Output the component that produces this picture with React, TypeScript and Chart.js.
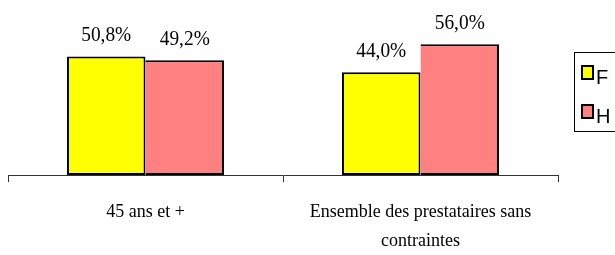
import React, { useEffect, useRef } from 'react';
import { Chart, registerables } from 'chart.js';

Chart.register(...registerables);

const categories: (string | string[])[] = ['45 ans et +', ['Ensemble des prestataires sans', 'contraintes']];
const seriesNames = ['F', 'H'];
const valuesF = [50.8, 44.0];
const valuesH = [49.2, 56.0];
const seriesColors = ['#FFFF00', '#FF8080'];
const yMin = 0;
const yMax = 60;

const fmt = (v: number) => v.toFixed(1).replace('.', ',') + '%';

const dataLabelPlugin = {
  id: 'dataLabels',
  afterDatasetsDraw(chart: any) {
    const ctx = chart.ctx;
    chart.data.datasets.forEach((ds: any, di: number) => {
      const meta = chart.getDatasetMeta(di);
      meta.data.forEach((el: any, i: number) => {
        ctx.save();
        ctx.translate(el.x, el.y - 15);
        ctx.scale(0.88, 1);
        ctx.font = '22px "Liberation Serif", serif';
        ctx.fillStyle = '#000';
        ctx.textAlign = 'center';
        ctx.textBaseline = 'alphabetic';
        ctx.fillText(fmt(ds.data[i]), 0, 0);
        ctx.restore();
      });
    });
  },
};

const legendPlugin = {
  id: 'boxLegend',
  afterDraw(chart: any) {
    const ctx = chart.ctx;
    const left = chart.chartArea.right + 16;
    const top = 52;
    ctx.save();
    ctx.strokeStyle = '#000';
    ctx.lineWidth = 1;
    ctx.strokeRect(left + 0.5, top + 0.5, 80, 79);
    chart.data.datasets.forEach((ds: any, i: number) => {
      const by = top + 13 + i * 39;
      ctx.fillStyle = ds.backgroundColor;
      ctx.fillRect(left + 7, by, 13, 15);
      ctx.strokeStyle = '#000';
      ctx.lineWidth = 2;
      ctx.strokeRect(left + 8, by + 1, 11, 13);
      ctx.fillStyle = '#000';
      ctx.font = '20px "Liberation Sans", Arial, sans-serif';
      ctx.textAlign = 'left';
      ctx.textBaseline = 'alphabetic';
      ctx.fillText(ds.label, left + 22, by + 19);
    });
    ctx.restore();
  },
};

export default function App() {
  const canvasRef = useRef<HTMLCanvasElement | null>(null);

  useEffect(() => {
    if (!canvasRef.current) return;
    const chart = new Chart(canvasRef.current, {
      type: 'bar',
      data: {
        labels: categories as any,
        datasets: [
          {
            label: seriesNames[0],
            data: valuesF,
            backgroundColor: seriesColors[0],
            borderColor: '#000',
            borderWidth: 2,
            borderSkipped: false,
          },
          {
            label: seriesNames[1],
            data: valuesH,
            backgroundColor: seriesColors[1],
            borderColor: '#000',
            borderWidth: { top: 2, right: 2, bottom: 2, left: 0 },
            borderSkipped: false,
          },
        ],
      },
      options: {
        animation: false,
        responsive: true,
        maintainAspectRatio: false,
        layout: { padding: { left: 8, right: 57, top: 35, bottom: 0 } },
        datasets: { bar: { barPercentage: 1, categoryPercentage: 0.571 } },
        plugins: {
          legend: { display: false },
          tooltip: { enabled: false },
        },
        scales: {
          x: {
            afterFit: (scale: any) => {
              scale.height = 80;
            },
            grid: {
              display: true,
              drawOnChartArea: false,
              tickLength: 7,
              color: '#333',
              lineWidth: 1,
            },
            border: { display: true, color: '#333', width: 1 },
            ticks: {
              color: '#000',
              padding: 16,
              maxRotation: 0,
              autoSkip: false,
              font: { family: '"Liberation Serif", serif', size: 18, lineHeight: 1.62 },
            },
          },
          y: {
            display: false,
            min: yMin,
            max: yMax,
          },
        },
      },
      plugins: [dataLabelPlugin, legendPlugin],
    });
    return () => chart.destroy();
  }, []);

  return (
    <div style={{ position: 'fixed', left: 0, top: 0, width: 615, height: 255, background: '#fff' }}>
      <canvas ref={canvasRef} />
    </div>
  );
}
